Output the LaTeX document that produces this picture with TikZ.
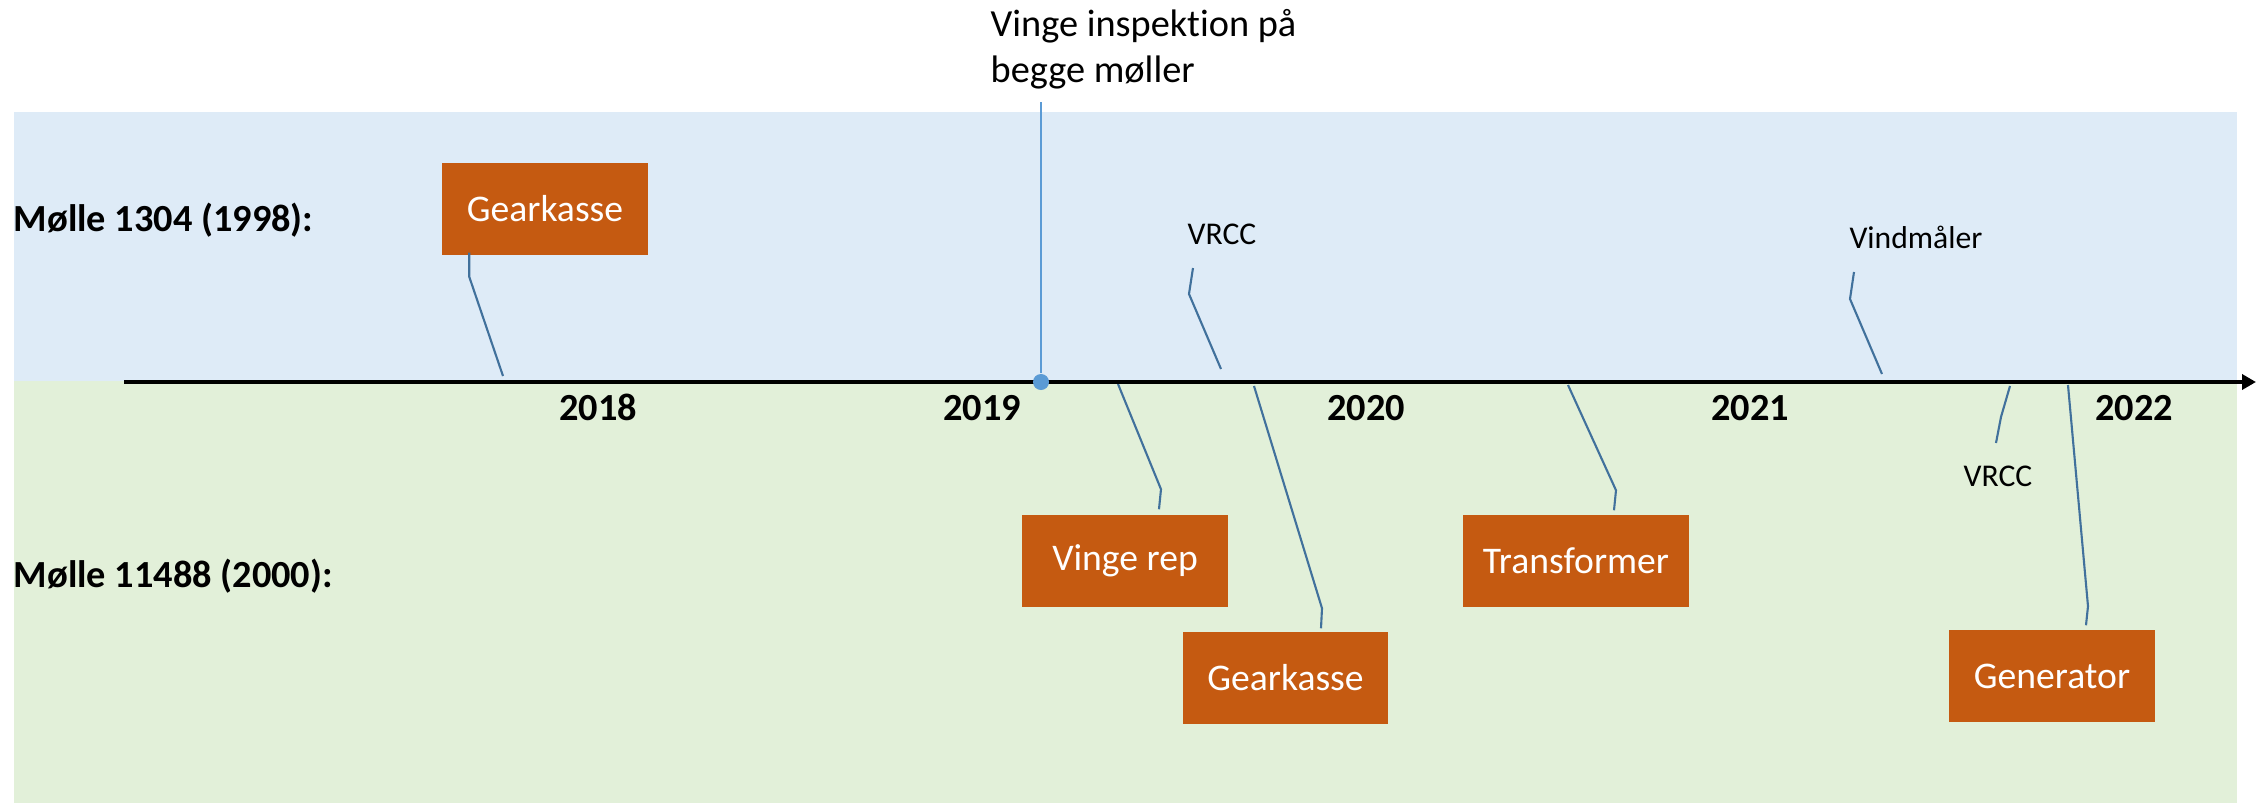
\documentclass[tikz,border=0pt]{standalone}
\usepackage{fontspec}
\setmainfont{Carlito}[Ligatures=NoCommon]
\usetikzlibrary{arrows.meta,calc}

\definecolor{bandblue}{HTML}{DEEBF7}
\definecolor{bandgreen}{HTML}{E2F0D9}
\definecolor{boxorange}{HTML}{C55A11}
\definecolor{leaderblue}{HTML}{41719C}
\definecolor{inspblue}{HTML}{5B9BD5}

\tikzset{
  event/.style={fill=boxorange, text=white, inner sep=0pt, minimum width=2.06cm,
    minimum height=0.92cm, font=\fontsize{10.7}{12}\selectfont},
  leader/.style={leaderblue, line width=0.6pt},
  small/.style={inner sep=0pt, font=\fontsize{9}{11}\selectfont},
  year/.style={inner sep=0pt, font=\fontsize{10.9}{13}\selectfont\bfseries},
}

\begin{document}
\begin{tikzpicture}[x=0.01cm,y=-0.01cm]
\useasboundingbox (0,0) rectangle (2256,803);

% the two bands
\fill[bandblue] (14,112) rectangle (2237,381);
\fill[bandgreen] (14,381) rectangle (2237,803);

\node[year, anchor=base west] (m1304) at (13,231) {Mølle 1304 (1998):};
\node[year, anchor=base west] (m11488) at (13,587) {Mølle 11488 (2000):};

% points on the time line
\coordinate (a1) at (503,376);
\coordinate (a2) at (1221,369);
\coordinate (a3) at (1882,374);
\coordinate (b1) at (1118,384);
\coordinate (b2) at (1254,386);
\coordinate (b3) at (1568,385);
\coordinate (b4) at (2010,386);
\coordinate (b5) at (2068,385);

% events, Mølle 1304
\node[event] (gear1) at (545,209) {Gearkasse};
\node[small, anchor=base] (vrcc1) at (1222,244) {VRCC};
\node[small, anchor=base] (vind) at (1916,248) {Vindmåler};

% events, Mølle 11488
\node[event] (vrep) at (1125,561) {Vinge rep};
\node[event, minimum width=2.05cm] (gear2) at (1285.5,678) {Gearkasse};
\node[event, minimum width=2.26cm] (trafo) at (1576,561) {Transformer};
\node[small, anchor=base] (vrcc2) at (1998,486) {VRCC};
\node[event] (gen) at (2052,676) {Generator};

% leaders
\draw[leader] ($(gear1.south west)+(28,-3)$) -- ++(0,24) -- (a1);
\draw[leader] ($(vrcc1.base)+(-29,24)$) -- ++(-4,26) -- (a2);
\draw[leader] ($(vind.base)+(-62,24)$) -- ++(-4,27) -- (a3);
\draw[leader] ($(vrep.north)+(34,-5)$) -- ++(2,-20) -- (b1);
\draw[leader] ($(gear2.north)+(35.5,-3)$) -- ++(1,-20) -- (b2);
\draw[leader] ($(trafo.north)+(38,-4)$) -- ++(2,-20) -- (b3);
\draw[leader] ($(vrcc2.base)+(-2,-43)$) -- ++(5,-26) -- (b4);
\draw[leader] ($(gen.north)+(34,-4)$) -- ++(2,-19) -- (b5);

% time line
\coordinate (start) at (124,382);
\coordinate (end) at (2256,382);
\draw[line width=1pt, -{Triangle[length=0.14cm,width=0.15cm]}] (start) -- (end);

\foreach \yr/\x in {2018/598,2019/982,2020/1366,2021/1750,2022/2134}
  \node[year, anchor=base] (y\yr) at (\x,420) {\yr};

% inspection of both
\node[anchor=base west, align=left, inner sep=0pt, font=\fontsize{10.9}{12.8}\selectfont]
  (insp) at (990,82) {Vinge inspektion på\\begge møller};
\coordinate (insptop) at (1041,102);
\node[circle, fill=inspblue, inner sep=0pt, minimum size=0.16cm] (dot) at (1041,382) {};
\draw[inspblue, line width=0.7pt] (insptop) -- (dot);
\end{tikzpicture}
\end{document}
